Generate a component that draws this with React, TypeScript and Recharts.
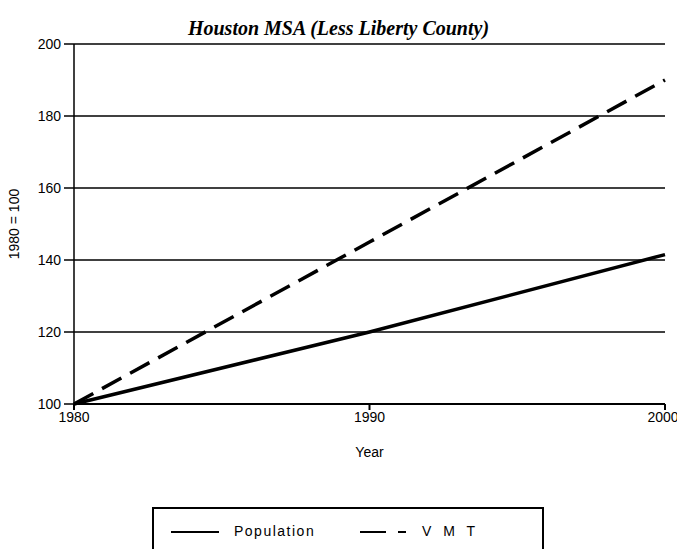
import { LineChart, Line, XAxis, YAxis, CartesianGrid } from 'recharts';

const years = [1980, 1990, 2000];
const population = [100, 120, 141.5];
const vmt = [100, 145, 190];
const seriesNames = ['Population', 'V M T'];
const xTicks = [1980, 1990, 2000];
const yTicks = [100, 120, 140, 160, 180, 200];

const data = years.map((year, i) => ({ year, population: population[i], vmt: vmt[i] }));

const AXIS_FONT = { fontFamily: '"Liberation Sans", Arial, sans-serif', fontSize: 14, fill: '#000' };

// legend drawn as a plain box under the plot, like the scanned original
function LegendBox() {
  return (
    <div
      style={{
        position: 'absolute',
        left: 152,
        top: 507,
        width: 392,
        height: 60,
        border: '2px solid #000',
        boxSizing: 'border-box',
        fontFamily: '"Liberation Sans", Arial, sans-serif',
        fontSize: 14,
        color: '#000',
      }}
    >
      <svg width={48} height={6} style={{ position: 'absolute', left: 17, top: 20 }}>
        <line x1={0} y1={3} x2={48} y2={3} stroke="#000" strokeWidth={2} />
      </svg>
      <span style={{ position: 'absolute', left: 80, top: 14, letterSpacing: 1.5 }}>{seriesNames[0]}</span>
      <svg width={52} height={6} style={{ position: 'absolute', left: 206, top: 20 }}>
        <line x1={0} y1={3} x2={52} y2={3} stroke="#000" strokeWidth={2} strokeDasharray="26 12 8 20" />
      </svg>
      <span style={{ position: 'absolute', left: 268, top: 14, letterSpacing: 4 }}>{seriesNames[1]}</span>
    </div>
  );
}

export default function App() {
  return (
    <div style={{ position: 'absolute', left: 0, top: 0, width: 677, height: 549, background: '#fff', overflow: 'hidden' }}>
      <div
        style={{
          position: 'absolute',
          left: 0,
          top: 16,
          width: 677,
          textAlign: 'center',
          fontFamily: '"Liberation Serif", "Times New Roman", serif',
          fontWeight: 'bold',
          fontStyle: 'italic',
          fontSize: 20,
          lineHeight: '24px',
        }}
      >
        Houston MSA (Less Liberty County)
      </div>
      <LineChart width={677} height={549} data={data} margin={{ top: 44, right: 12, bottom: 89, left: 14 }}>
        <CartesianGrid horizontal vertical={false} stroke="#000" strokeWidth={1.4} />
        <XAxis
          dataKey="year"
          type="number"
          domain={[1980, 2000]}
          ticks={xTicks}
          height={56}
          tickSize={6}
          tickMargin={2}
          stroke="#000"
          strokeWidth={2}
          tick={AXIS_FONT}
          label={{ value: 'Year', position: 'insideBottom', offset: 3, style: AXIS_FONT }}
        />
        <YAxis
          type="number"
          domain={[100, 200]}
          ticks={yTicks}
          width={60}
          tickSize={10}
          tickMargin={3}
          stroke="#000"
          strokeWidth={1.5}
          tick={AXIS_FONT}
          label={{
            value: '1980 = 100',
            angle: -90,
            position: 'insideLeft',
            offset: 0,
            style: { ...AXIS_FONT, textAnchor: 'middle' },
          }}
        />
        <Line
          dataKey="population"
          name={seriesNames[0]}
          type="linear"
          stroke="#000"
          strokeWidth={3.5}
          dot={false}
          isAnimationActive={false}
        />
        <Line
          dataKey="vmt"
          name={seriesNames[1]}
          type="linear"
          stroke="#000"
          strokeWidth={3.5}
          strokeDasharray="22 10"
          dot={false}
          isAnimationActive={false}
        />
      </LineChart>
      <LegendBox />
    </div>
  );
}
